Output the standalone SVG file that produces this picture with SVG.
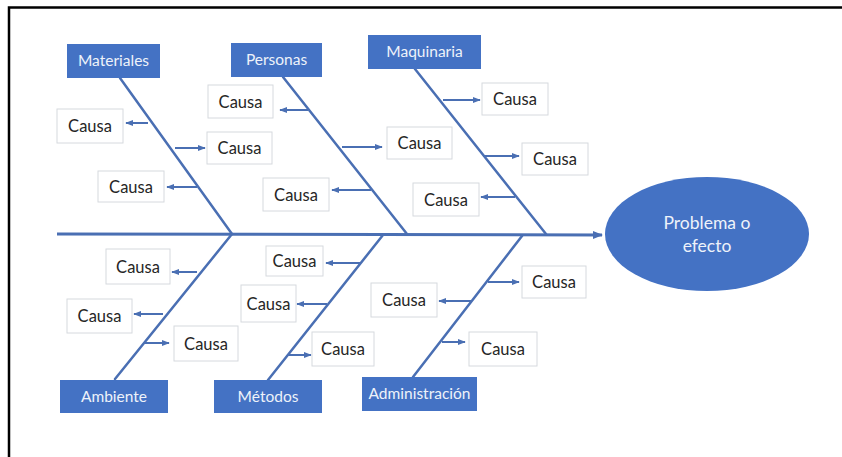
<svg xmlns="http://www.w3.org/2000/svg" width="842" height="457" viewBox="0 0 842 457">
  <style>
    .cat rect { fill: #4472c4; }
    .cat text { fill: #eef2fa; font-family: Lato, "Open Sans", "Liberation Sans", sans-serif; font-size: 15.5px; text-anchor: middle; }
    .cause rect { fill: #ffffff; stroke: #d6d9de; stroke-width: 1; }
    .cause text { fill: #262626; font-family: Lato, "Open Sans", "Liberation Sans", sans-serif; font-size: 16.5px; text-anchor: middle; }
    .bone { stroke: #4a6fb3; stroke-width: 2.5; fill: none; stroke-linecap: round; }
    .spine { stroke: #4a6fb3; stroke-width: 3; fill: none; }
    .twig { stroke: #4a6fb3; stroke-width: 2; fill: none; marker-end: url(#head); }
  </style>
  <defs>
    <marker id="head" viewBox="0 0 10 10" refX="9" refY="5" markerWidth="4" markerHeight="4" orient="auto">
      <path d="M0,1 L10,5 L0,9 Z" fill="#4a6fb3"/>
    </marker>
    <marker id="bighead" viewBox="0 0 10 10" refX="9" refY="5" markerWidth="3.5" markerHeight="3.5" orient="auto">
      <path d="M0,1 L10,5 L0,9 Z" fill="#4a6fb3"/>
    </marker>
  </defs>

  <rect x="0" y="0" width="842" height="457" fill="#ffffff"/>
  <!-- frame -->
  <path d="M9,457 V7.5 H842" fill="none" stroke="#000" stroke-width="2.5"/>

  <!-- connectors -->
  <g id="connectors">
    <line class="spine" x1="57" y1="234" x2="602" y2="235" marker-end="url(#bighead)"/>
    <!-- upper bones -->
    <line class="bone" x1="120" y1="78" x2="232" y2="234"/>
    <line class="bone" x1="283" y1="77" x2="407" y2="234"/>
    <line class="bone" x1="415" y1="69" x2="546" y2="234"/>
    <!-- lower bones -->
    <line class="bone" x1="115" y1="379" x2="232" y2="234"/>
    <line class="bone" x1="268" y1="380" x2="383" y2="235"/>
    <line class="bone" x1="413" y1="377" x2="522" y2="236"/>
    <!-- Materiales causes -->
    <line class="twig" x1="148" y1="123" x2="126" y2="123"/>
    <line class="twig" x1="175" y1="148" x2="205" y2="148"/>
    <line class="twig" x1="197" y1="187" x2="167" y2="187"/>
    <!-- Personas causes -->
    <line class="twig" x1="308" y1="110" x2="280" y2="110"/>
    <line class="twig" x1="342" y1="147" x2="382" y2="147"/>
    <line class="twig" x1="371" y1="190" x2="332" y2="190"/>
    <!-- Maquinaria causes -->
    <line class="twig" x1="443" y1="100" x2="480" y2="100"/>
    <line class="twig" x1="483" y1="156" x2="519" y2="156"/>
    <line class="twig" x1="515" y1="197" x2="481" y2="197"/>
    <!-- Ambiente causes -->
    <line class="twig" x1="197" y1="272" x2="172" y2="272"/>
    <line class="twig" x1="163" y1="314" x2="134" y2="314"/>
    <line class="twig" x1="145" y1="343" x2="169" y2="343"/>
    <!-- Métodos causes -->
    <line class="twig" x1="360" y1="263" x2="326" y2="263"/>
    <line class="twig" x1="327" y1="304" x2="297" y2="304"/>
    <line class="twig" x1="287" y1="355" x2="311" y2="355"/>
    <!-- Administración causes -->
    <line class="twig" x1="488" y1="282" x2="519" y2="282"/>
    <line class="twig" x1="471" y1="301" x2="439" y2="301"/>
    <line class="twig" x1="442" y1="342" x2="465" y2="342"/>
  </g>

  <!-- category heads -->
  <g id="materiales" class="cat"><rect x="67" y="44" width="93" height="34"/><text x="113.5" y="66">Materiales</text></g>
  <g id="personas" class="cat"><rect x="231" y="43" width="91" height="34"/><text x="276.5" y="65">Personas</text></g>
  <g id="maquinaria" class="cat"><rect x="368" y="35" width="113" height="34"/><text x="424.5" y="57">Maquinaria</text></g>
  <g id="ambiente" class="cat"><rect x="60" y="380" width="108" height="33"/><text x="114" y="402">Ambiente</text></g>
  <g id="metodos" class="cat"><rect x="214" y="380" width="108" height="33"/><text x="268" y="402">Métodos</text></g>
  <g id="administracion" class="cat"><rect x="362" y="377" width="115" height="34"/><text x="419.5" y="399">Administración</text></g>

  <!-- effect -->
  <g id="efecto">
    <ellipse cx="707" cy="234" rx="102" ry="57" fill="#4472c4"/>
    <text x="707" y="229" fill="#eef2fa" font-family="Lato, 'Open Sans', 'Liberation Sans', sans-serif" font-size="17.5" text-anchor="middle">Problema o</text>
    <text x="707" y="252" fill="#eef2fa" font-family="Lato, 'Open Sans', 'Liberation Sans', sans-serif" font-size="17.5" text-anchor="middle">efecto</text>
  </g>

  <!-- causes -->
  <g id="causa-m1" class="cause"><rect x="57" y="109" width="66" height="34"/><text x="90" y="132">Causa</text></g>
  <g id="causa-m2" class="cause"><rect x="207" y="132" width="65" height="32"/><text x="239.5" y="154">Causa</text></g>
  <g id="causa-m3" class="cause"><rect x="98" y="171" width="66" height="31"/><text x="131" y="193">Causa</text></g>

  <g id="causa-p1" class="cause"><rect x="208" y="85" width="65" height="33"/><text x="240.5" y="108">Causa</text></g>
  <g id="causa-p2" class="cause"><rect x="387" y="127" width="65" height="32"/><text x="419.5" y="149">Causa</text></g>
  <g id="causa-p3" class="cause"><rect x="263" y="178" width="66" height="33"/><text x="296" y="201">Causa</text></g>

  <g id="causa-q1" class="cause"><rect x="482" y="83" width="66" height="32"/><text x="515" y="105">Causa</text></g>
  <g id="causa-q2" class="cause"><rect x="522" y="143" width="66" height="32"/><text x="555" y="165">Causa</text></g>
  <g id="causa-q3" class="cause"><rect x="413" y="183" width="66" height="33"/><text x="446" y="206">Causa</text></g>

  <g id="causa-a1" class="cause"><rect x="106" y="249" width="64" height="35"/><text x="138" y="273">Causa</text></g>
  <g id="causa-a2" class="cause"><rect x="67" y="299" width="65" height="34"/><text x="99.5" y="322">Causa</text></g>
  <g id="causa-a3" class="cause"><rect x="174" y="326" width="64" height="35"/><text x="206" y="350">Causa</text></g>

  <g id="causa-t1" class="cause"><rect x="266" y="246" width="57" height="30"/><text x="294.5" y="267">Causa</text></g>
  <g id="causa-t2" class="cause"><rect x="241" y="285" width="55" height="37"/><text x="268.5" y="310">Causa</text></g>
  <g id="causa-t3" class="cause"><rect x="312" y="332" width="62" height="34"/><text x="343" y="355">Causa</text></g>

  <g id="causa-d1" class="cause"><rect x="522" y="266" width="64" height="32"/><text x="554" y="288">Causa</text></g>
  <g id="causa-d2" class="cause"><rect x="371" y="283" width="66" height="34"/><text x="404" y="306">Causa</text></g>
  <g id="causa-d3" class="cause"><rect x="469" y="332" width="68" height="34"/><text x="503" y="355">Causa</text></g>
</svg>
